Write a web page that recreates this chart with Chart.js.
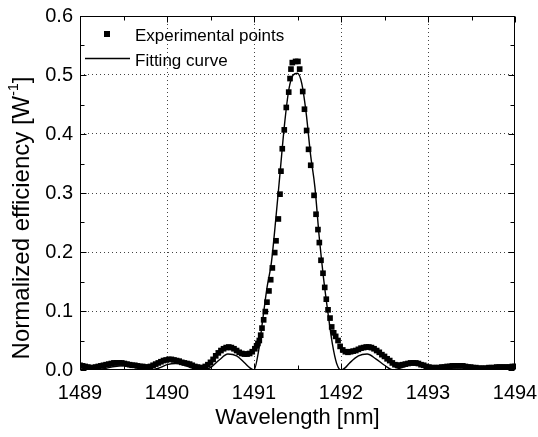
<!DOCTYPE html>
<html><head><meta charset="utf-8">
<script src="https://cdn.jsdelivr.net/npm/chart.js@4"></script>
<style>html,body{margin:0;padding:0;background:#fff}#wrap{width:538px;height:437px;position:relative}</style>
</head><body><div id="wrap"><canvas id="c"></canvas></div>
<script>
// ---- data ----
const expWavelength = [
1489.00,1489.03,1489.06,1489.09,1489.12,1489.15,1489.18,1489.21,1489.24,1489.27,
1489.30,1489.33,1489.36,1489.39,1489.42,1489.45,1489.48,1489.51,1489.54,1489.57,
1489.60,1489.63,1489.66,1489.69,1489.72,1489.75,1489.78,1489.81,1489.84,1489.87,
1489.90,1489.93,1489.96,1489.99,1490.02,1490.05,1490.08,1490.11,1490.14,1490.17,
1490.20,1490.23,1490.26,1490.29,1490.32,1490.35,1490.38,1490.41,1490.44,1490.47,
1490.50,1490.53,1490.56,1490.59,1490.62,1490.65,1490.68,1490.71,1490.74,1490.77,
1490.80,1490.83,1490.86,1490.89,1490.92,1490.95,1490.98,1491.01,1491.03,
1491.045,1491.061,1491.077,1491.092,1491.111,1491.130,1491.149,1491.172,1491.192,1491.211,
1491.238,1491.253,1491.280,1491.299,1491.310,1491.325,1491.348,1491.371,1491.399,1491.414,
1491.425,1491.440,1491.478,1491.505,1491.525,1491.560,1491.580,1491.605,1491.627,1491.652,
1491.690,1491.713,1491.735,1491.751,1491.770,1491.793,1491.813,1491.831,1491.851,1491.874,
1491.893,1491.916,1491.939,1491.966,
1491.99,1492.02,1492.05,1492.08,1492.11,1492.14,1492.17,1492.20,1492.23,1492.26,
1492.29,1492.32,1492.35,1492.38,1492.41,1492.44,1492.47,1492.50,1492.53,1492.56,
1492.59,1492.62,1492.65,1492.68,1492.71,1492.74,1492.77,1492.80,1492.83,1492.86,
1492.89,1492.92,1492.95,1492.98,1493.01,1493.04,1493.07,1493.10,1493.13,1493.16,
1493.19,1493.22,1493.25,1493.28,1493.31,1493.34,1493.37,1493.40,1493.43,1493.46,
1493.49,1493.52,1493.55,1493.58,1493.61,1493.64,1493.67,1493.70,1493.73,1493.76,
1493.79,1493.82,1493.85,1493.88,1493.91,1493.94,1493.97,1494.00
];
const expEfficiency = [
0.008,0.007,0.006,0.005,0.004,0.004,0.005,0.006,0.007,0.008,
0.009,0.010,0.011,0.012,0.012,0.012,0.012,0.011,0.010,0.009,
0.008,0.008,0.007,0.006,0.006,0.005,0.005,0.006,0.008,0.010,
0.012,0.014,0.016,0.017,0.018,0.018,0.017,0.016,0.015,0.013,
0.012,0.011,0.010,0.008,0.006,0.005,0.004,0.004,0.006,0.009,
0.013,0.018,0.024,0.029,0.033,0.036,0.038,0.039,0.038,0.036,
0.033,0.030,0.028,0.027,0.027,0.028,0.031,0.036,0.041,
0.045,0.050,0.059,0.071,0.085,0.099,0.115,0.134,0.153,0.173,
0.199,0.219,0.256,0.298,0.337,0.375,0.407,0.445,0.471,0.494,
0.510,0.521,0.523,0.523,0.510,0.472,0.442,0.406,0.374,0.347,
0.296,0.264,0.238,0.216,0.186,0.164,0.140,0.120,0.102,0.088,
0.073,0.063,0.057,0.050,
0.040,0.034,0.031,0.030,0.031,0.032,0.033,0.035,0.037,0.038,
0.039,0.039,0.038,0.036,0.033,0.030,0.026,0.023,0.019,0.016,
0.012,0.009,0.008,0.008,0.009,0.010,0.011,0.012,0.012,0.012,
0.011,0.009,0.008,0.006,0.005,0.004,0.004,0.004,0.004,0.005,
0.005,0.006,0.006,0.007,0.007,0.007,0.007,0.007,0.006,0.005,
0.005,0.004,0.004,0.003,0.003,0.003,0.003,0.004,0.004,0.004,
0.005,0.005,0.005,0.005,0.005,0.005,0.006,0.006
];
const fitWavelength = [
1489.0,1489.1,1489.2,1489.3,1489.4,1489.5,1489.6,1489.7,1489.8,1489.9,
1490.0,1490.1,1490.2,1490.3,1490.4,1490.5,1490.6,1490.7,1490.8,1490.9,1490.95,
1491.00,1491.05,1491.10,1491.15,1491.20,1491.25,1491.30,1491.35,1491.40,1491.45,
1491.50,1491.55,1491.60,1491.65,1491.70,1491.75,1491.80,1491.85,1491.90,1491.95,
1492.00,1492.05,1492.1,1492.2,1492.3,1492.4,1492.5,1492.6,1492.7,1492.8,1492.9,
1493.0,1493.1,1493.2,1493.3,1493.4,1493.5,1493.6,1493.7,1493.8,1493.9,1494.0
];
const fitEfficiency = [
0.004,0.002,0.001,0.003,0.006,0.007,0.005,0.002,0.000,0.003,
0.009,0.011,0.008,0.003,0.000,0.004,0.017,0.027,0.024,0.011,0.004,
0.000,0.030,0.085,0.140,0.182,0.255,0.335,0.415,0.475,0.500,
0.503,0.485,0.435,0.365,0.310,0.225,0.155,0.097,0.045,0.011,
0.000,0.004,0.012,0.024,0.027,0.019,0.008,0.000,0.004,0.009,0.009,
0.005,0.001,0.001,0.004,0.006,0.005,0.003,0.001,0.002,0.004,0.004
];
const xTickLabels = [1489,1490,1491,1492,1493,1494];
const yTickLabels = ['0.0','0.1','0.2','0.3','0.4','0.5','0.6'];
const legendLabels = ['Experimental points','Fitting curve'];
const xTitle = 'Wavelength [nm]';
const yTitleMain = 'Normalized efficiency [W';
const yTitleSup = '-1';
const yTitleEnd = ']';

const FONT = "'Liberation Sans', Arial, Helvetica, sans-serif";

const expPoints = expWavelength.map((x,i)=>({x, y: expEfficiency[i]}));
const fitPoints = fitWavelength.map((x,i)=>({x, y: fitEfficiency[i]}));

const decor = {
  id: 'decor',
  afterDraw(chart) {
    const {ctx, chartArea: a, scales: {x, y}} = chart;
    ctx.save();
    // frame
    ctx.strokeStyle = '#000';
    ctx.lineWidth = 1;
    ctx.setLineDash([]);
    const L = Math.round(a.left)+0.5, T = Math.round(a.top)+0.5, R = Math.round(a.right)-0.5, B = Math.round(a.bottom)-0.5;
    ctx.strokeRect(L, T, R-L, B-T);
    // inside ticks
    ctx.beginPath();
    for (let v = 1489; v <= 1494.001; v += 0.5) {
      const px = Math.round(x.getPixelForValue(v)) + 0.5;
      const major = Math.abs(v - Math.round(v)) < 1e-6;
      const len = major ? 6 : 4;
      ctx.moveTo(px, B); ctx.lineTo(px, B - len);
      ctx.moveTo(px, T); ctx.lineTo(px, T + len);
    }
    for (let k = 0; k <= 12; k++) {
      const v = k * 0.05;
      const py = Math.round(y.getPixelForValue(v)) + 0.5;
      const len = (k % 2 === 0) ? 6 : 4;
      ctx.moveTo(L, py); ctx.lineTo(L + len, py);
      ctx.moveTo(R, py); ctx.lineTo(R - len, py);
    }
    ctx.stroke();
    // legend
    ctx.fillStyle = '#000';
    ctx.fillRect(104, 31, 6, 6);
    ctx.lineWidth = 1.5;
    ctx.beginPath(); ctx.moveTo(85, 58.5); ctx.lineTo(130, 58.5); ctx.stroke();
    ctx.font = '17px ' + FONT;
    ctx.textBaseline = 'alphabetic';
    ctx.textAlign = 'left';
    ctx.fillText(legendLabels[0], 135, 41);
    ctx.fillText(legendLabels[1], 135, 66);
    // y title with superscript
    ctx.translate(22, 218);
    ctx.rotate(-Math.PI/2);
    ctx.font = '24px ' + FONT;
    const w1 = ctx.measureText(yTitleMain).width;
    ctx.font = '14px ' + FONT;
    const w2 = ctx.measureText(yTitleSup).width;
    ctx.font = '24px ' + FONT;
    const w3 = ctx.measureText(yTitleEnd).width;
    const total = w1 + w2 + w3;
    let sx = -total/2;
    ctx.textBaseline = 'middle';
    ctx.fillText(yTitleMain, sx, 0); sx += w1;
    ctx.font = '14px ' + FONT;
    ctx.fillText(yTitleSup, sx, -8); sx += w2;
    ctx.font = '24px ' + FONT;
    ctx.fillText(yTitleEnd, sx, 0);
    ctx.restore();
  }
};

new Chart(document.getElementById('c'), {
  type: 'scatter',
  data: {
    datasets: [
      {
        label: legendLabels[1], type: 'line', data: fitPoints, order: 0,
        borderColor: '#000', borderWidth: 1.4, pointRadius: 0, fill: false,
        cubicInterpolationMode: 'monotone'
      },
      {
        label: legendLabels[0], data: expPoints, order: 1,
        pointStyle: 'rect', pointRadius: 4.0, pointHoverRadius: 4.0,
        backgroundColor: '#000', borderColor: '#000', borderWidth: 0, showLine: false
      }
    ]
  },
  options: {
    responsive: true, maintainAspectRatio: false, animation: false, devicePixelRatio: 1,
    layout: { padding: { top: 16, right: 23, left: 0, bottom: 0 } },
    plugins: { legend: { display: false }, tooltip: { enabled: false } },
    scales: {
      x: {
        type: 'linear', min: 1489, max: 1494,
        afterBuildTicks: s => { s.ticks = xTickLabels.map(v => ({value: v})); },
        ticks: { color: '#000', font: { family: FONT, size: 20 }, padding: 11, maxRotation: 0,
                 callback: v => String(v) },
        grid: { drawTicks: false, lineWidth: 1,
                color: c => (c.tick && c.tick.value > 1489 && c.tick.value < 1494) ? '#444' : 'rgba(0,0,0,0)' },
        border: { display: false, dash: [1, 3] },
        title: { display: true, text: xTitle, color: '#000', font: { family: FONT, size: 22 }, padding: { top: 4, bottom: 6 } },
        afterFit: s => { s.height = 67; s.paddingLeft = 0; s.paddingRight = 0; }
      },
      y: {
        type: 'linear', min: 0, max: 0.6,
        afterBuildTicks: s => { s.ticks = yTickLabels.map(t => ({value: parseFloat(t)})); },
        ticks: { color: '#000', font: { family: FONT, size: 20 }, padding: 7,
                 callback: (v, i) => yTickLabels[i] },
        grid: { drawTicks: false, lineWidth: 1,
                color: c => (c.tick && c.tick.value > 0.001 && c.tick.value < 0.599) ? '#444' : 'rgba(0,0,0,0)' },
        border: { display: false, dash: [1, 3] },
        afterFit: s => { s.width = 80; s.paddingTop = 0; s.paddingBottom = 0; }
      }
    }
  },
  plugins: [decor]
});
</script>
</body></html>
